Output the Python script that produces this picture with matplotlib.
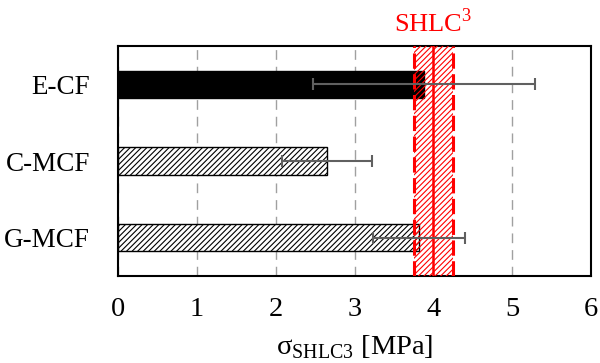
import matplotlib
matplotlib.use("Agg")
import matplotlib.pyplot as plt
import numpy as np

categories = ["G-MCF", "C-MCF", "E-CF"]
values = [3.82, 2.65, 3.88]
errors = [0.58, 0.57, 1.41]
hatches = ["//////", "//////", None]
colors = ["white", "white", "black"]
shlc_mean = 4.0
shlc_low = 3.76
shlc_high = 4.25
xticks = [0, 1, 2, 3, 4, 5, 6]

plt.rcParams['font.family'] = ['Liberation Serif', 'DejaVu Serif']
plt.rcParams['hatch.linewidth'] = 0.8

fig = plt.figure(figsize=(6.0, 3.63), dpi=100)
ax = fig.add_axes([118/600, 1-276/363, (591-118)/600, (276-46)/363])

ypos = np.arange(len(categories))
for y, v, e, h, c in zip(ypos, values, errors, hatches, colors):
    ax.barh(y, v, height=0.36, color=c, edgecolor='black', hatch=h, linewidth=1.0, zorder=2)

# SHLC band
ax.axvspan(shlc_low, shlc_high, facecolor='none', edgecolor='red', hatch='//////', linewidth=0, zorder=3)
ax.axvline(shlc_low, color='red', linestyle=(0, (5, 1.8)), linewidth=2.2, zorder=4)
ax.axvline(shlc_high, color='red', linestyle=(0, (5, 1.8)), linewidth=2.2, zorder=4)
ax.axvline(shlc_mean, color='red', linewidth=1.8, zorder=4)

for y, v, e in zip(ypos, values, errors):
    ax.errorbar(v, y, xerr=e, fmt='none', ecolor='#606060', elinewidth=1.5, capsize=4, capthick=1.5, zorder=5)

ax.set_xlim(0, 6)
ax.set_ylim(-0.5, 2.5)
ax.set_xticks(xticks)
ax.set_yticks(ypos)
ax.set_yticklabels(categories, fontsize=19.5)
ax.tick_params(axis='x', labelsize=20.5, length=0, pad=15)
ax.tick_params(axis='y', length=0, pad=20)
ax.grid(axis='x', color='#a0a0a0', linestyle=(0, (7, 5)), linewidth=1.0, zorder=0)
for s in ax.spines.values():
    s.set_linewidth(1.5)
    s.set_color('black')

ax.set_xlabel(r"σ$_{\mathregular{SHLC3}}$ [MPa]", fontsize=20.5, labelpad=8)
ax.text(shlc_mean, 2.62, r"SHLC$^{\mathregular{3}}$", color='red', fontsize=19, ha='center', va='bottom')

fig.savefig("out.png", dpi=100)
